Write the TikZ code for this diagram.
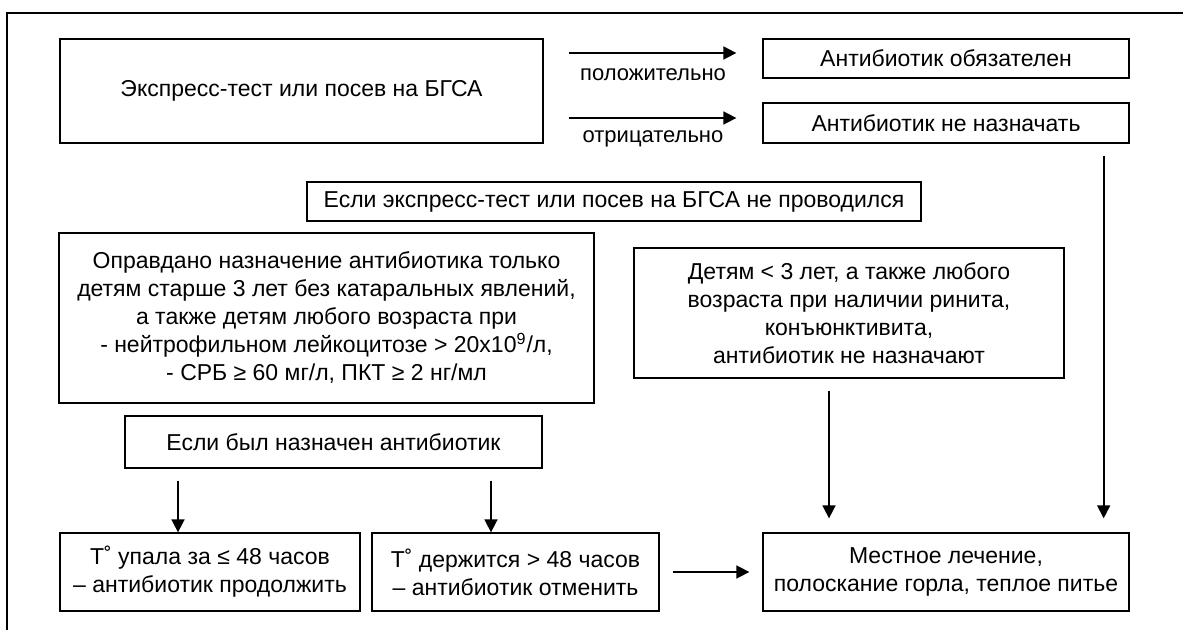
\documentclass[tikz,border=0pt]{standalone}
\usepackage{fontspec}
\setmainfont{Liberation Sans}
\usepackage{tikz}
\usetikzlibrary{positioning}
\usetikzlibrary{arrows.meta}

\begin{document}
\begin{tikzpicture}[x=0.5pt, y=-0.5pt,
  box/.style={draw, line width=0.65pt, inner sep=0pt, align=center, font=\fontsize{11.5}{14}\selectfont},
  arr/.style={line width=0.85pt, -{Triangle[length=6.5pt,width=6.5pt]}},
  lbl/.style={font=\fontsize{11}{14}\selectfont, inner sep=0pt, anchor=base}]
\useasboundingbox (0,0) rectangle (1183,630);
\draw[line width=0.65pt] (1183,13) -- (7,13) -- (7,630);

\node[box, minimum width=241.5pt, minimum height=52pt] (test) at (301.5,91) {Экспресс-тест или посев на БГСА};
\node[box, minimum width=183pt, minimum height=19.5pt] (obyaz) at (946,58.5) {Антибиотик обязателен};
\node[box, minimum width=183pt, minimum height=20pt] (nenaz) at (946,123) {Антибиотик не назначать};
\node[box, minimum width=307pt, minimum height=19.5pt] (neprov) at (614,201.5) {Если экспресс-тест или посев на БГСА не проводился};
\node[box, minimum width=267.5pt, minimum height=85pt] (opravd) at (326.5,318) {Оправдано назначение антибиотика только\\детям старше 3 лет без катаральных явлений,\\а также детям любого возраста при\\- нейтрофильном лейкоцитозе > 20х10\textsuperscript{9}/л,\\- СРБ ≥ 60 мг/л, ПКТ ≥ 2 нг/мл};
\node[box, minimum width=215pt, minimum height=65pt] (detyam) at (849,313) {Детям < 3 лет, а также любого\\возраста при наличии ринита,\\конъюнктивита,\\антибиотик не назначают};
\node[box, minimum width=208.5pt, minimum height=26pt] (bylnaz) at (333.5,442) {Если был назначен антибиотик};
\node[box, minimum width=150pt, minimum height=39pt] (upala) at (210,572) {Т˚ упала за ≤ 48 часов\\– антибиотик продолжить};
\node[box, minimum width=143.5pt, minimum height=39pt] (derzh) at (515.5,572) {Т˚ держится > 48 часов\\– антибиотик отменить};
\node[box, minimum width=183pt, minimum height=39pt] (mestn) at (946,572) {Местное лечение,\\полоскание горла, теплое питье};

\draw[arr, shorten <=12.5pt, shorten >=13pt] ([yshift=2.75pt]obyaz.west -| test.east) -- ([yshift=2.75pt]obyaz.west) node[lbl, midway, yshift=-14pt] {положительно};
\draw[arr, shorten <=12.5pt, shorten >=13pt] ([yshift=2.5pt]nenaz.west -| test.east) -- ([yshift=2.5pt]nenaz.west) node[lbl, midway, yshift=-12.5pt] {отрицательно};
\draw[arr, shorten <=6pt, shorten >=7pt] ([xshift=-13pt]nenaz.south east) -- ([xshift=-13pt]mestn.north east);
\draw[arr, shorten <=6pt, shorten >=7pt] ([xshift=-10pt]detyam.south) -- ([xshift=-10pt]detyam.south |- mestn.north);
\draw[arr, shorten <=6pt] ([xshift=-16pt]upala.north |- bylnaz.south) -- ([xshift=-16pt]upala.north);
\draw[arr, shorten <=6pt] ([xshift=-12.25pt]derzh.north |- bylnaz.south) -- ([xshift=-12.25pt]derzh.north);
\draw[arr, shorten <=6.5pt, shorten >=6.5pt] (derzh.east) -- (mestn.west);
\end{tikzpicture}
\end{document}
